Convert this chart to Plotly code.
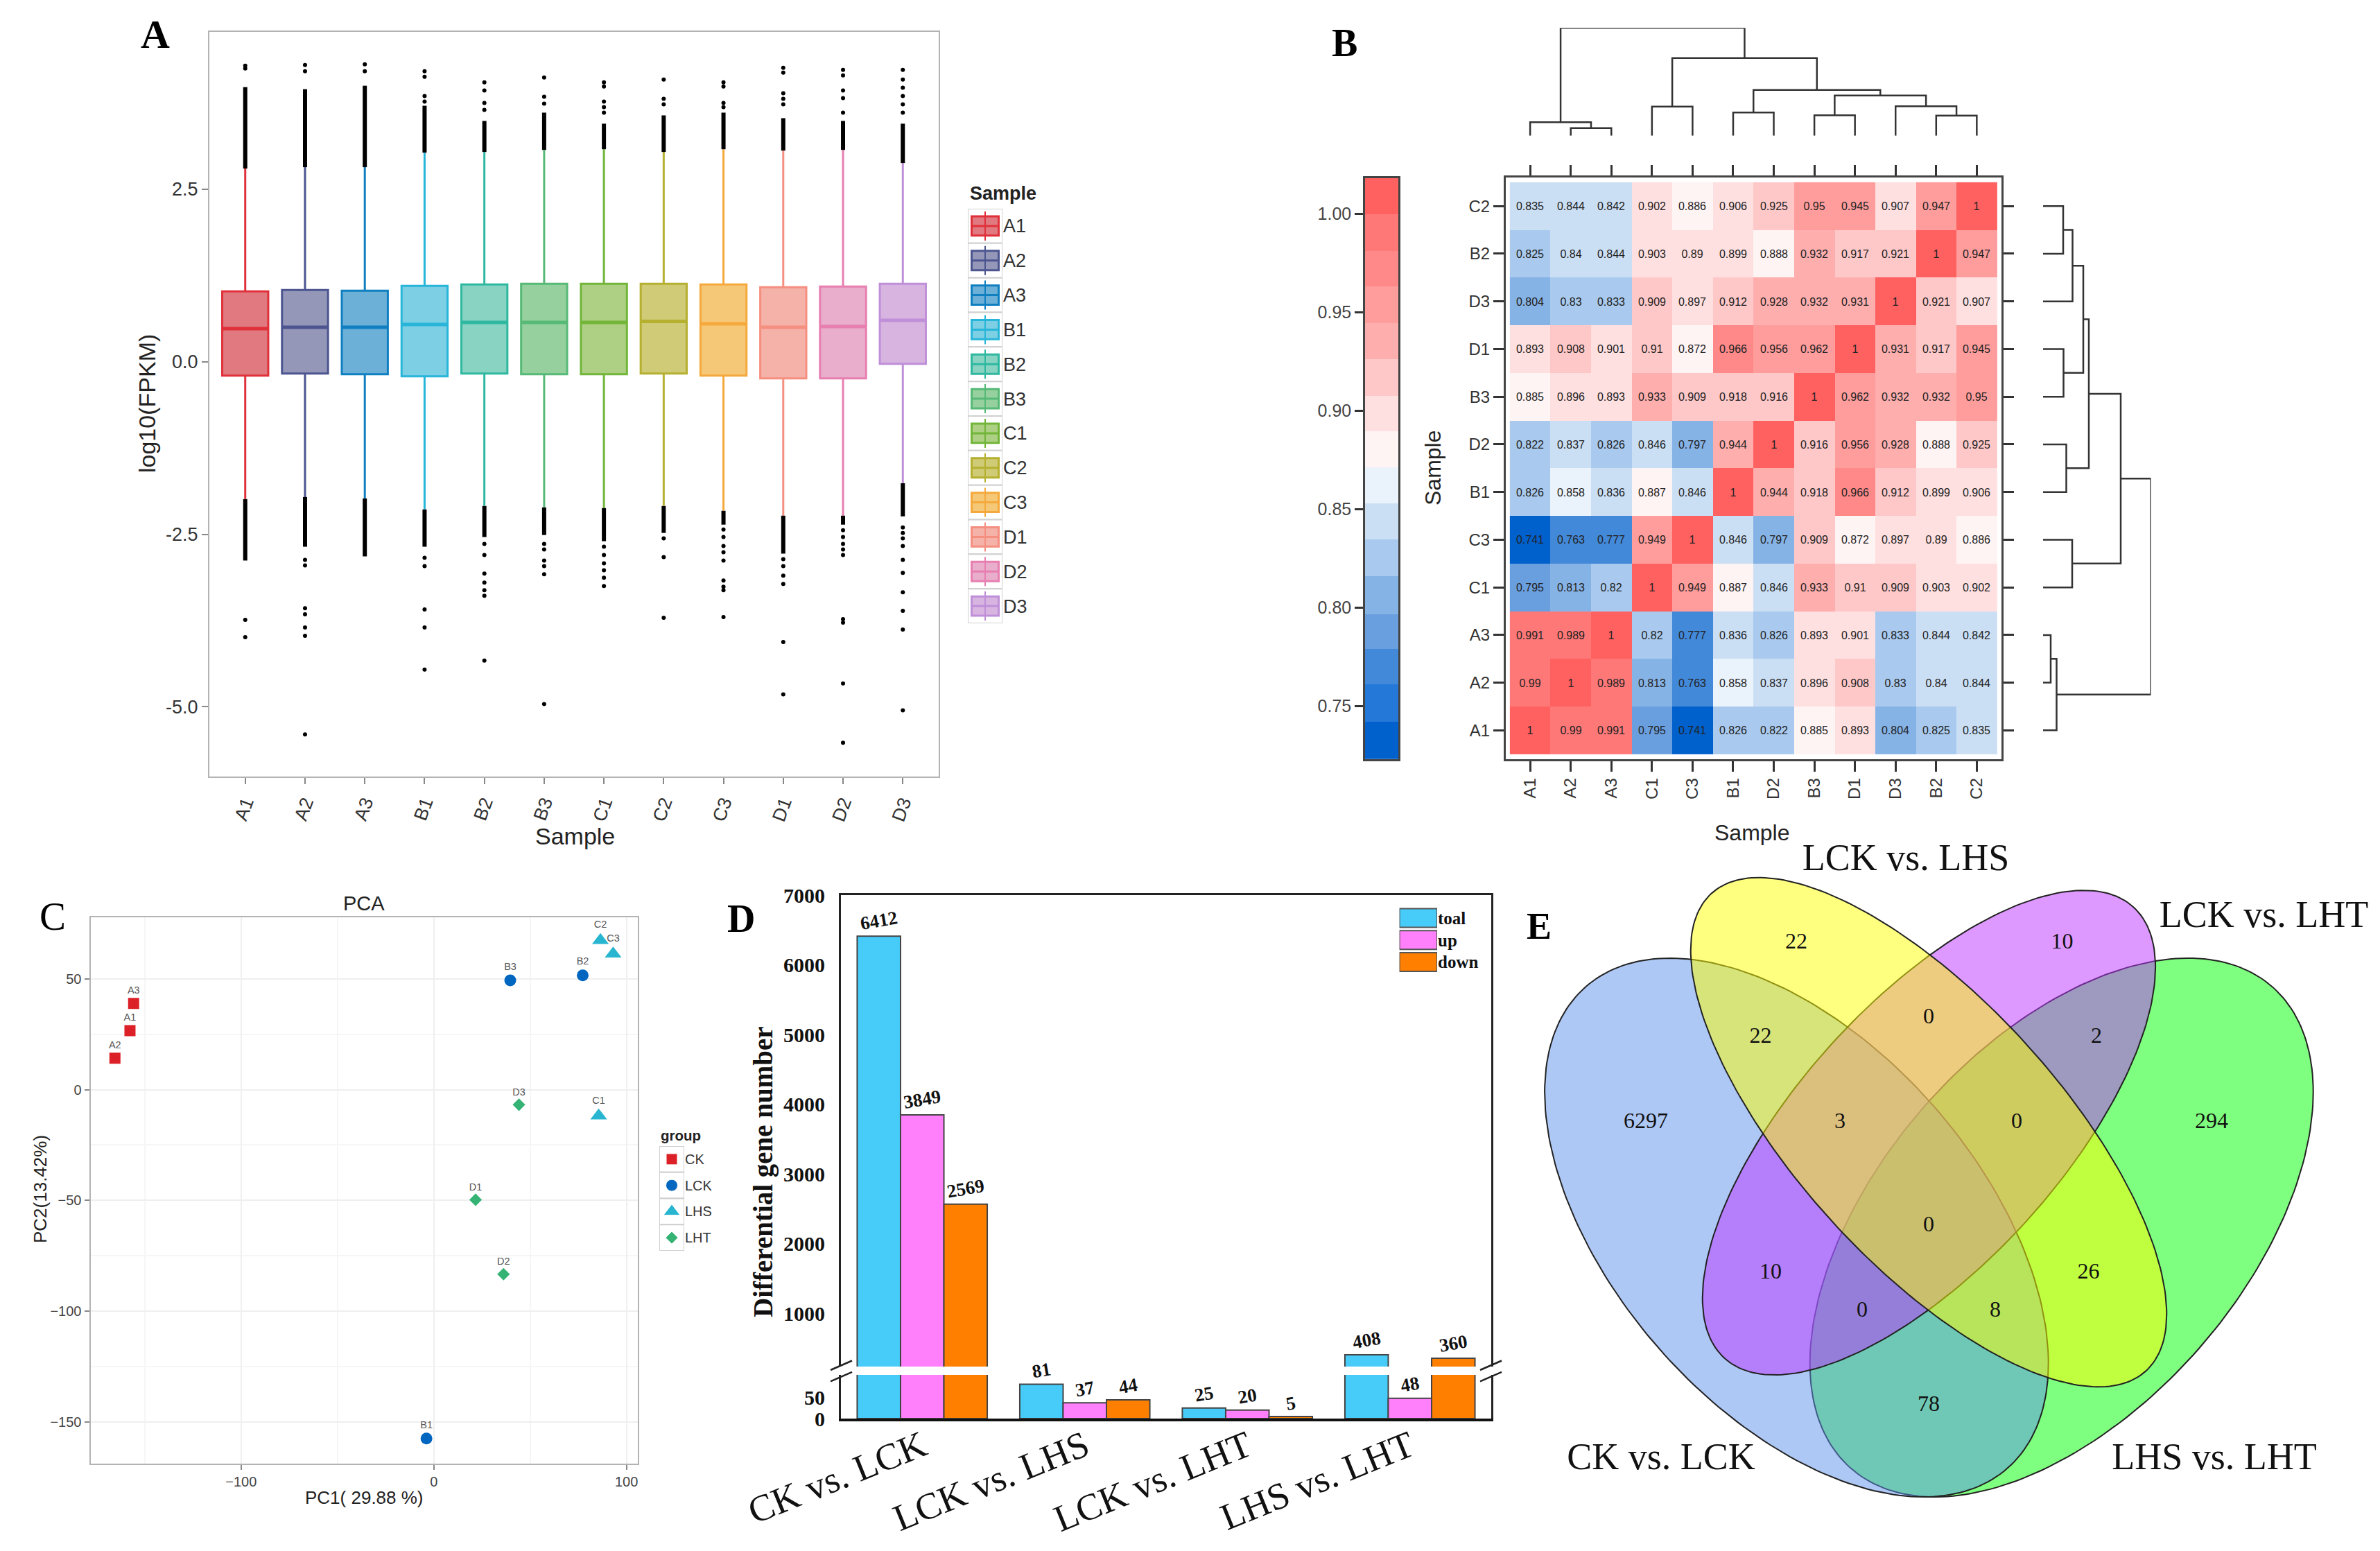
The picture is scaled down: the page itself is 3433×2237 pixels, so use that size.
import numpy as np
import plotly.graph_objects as go

W, H = 3433, 2237
SANS = "Liberation Sans"
SERIF = "Liberation Serif"

# ---------- Panel A data ----------
samples = ["A1","A2","A3","B1","B2","B3","C1","C2","C3","D1","D2","D3"]
box_q1 = [-0.20,-0.17,-0.18,-0.21,-0.17,-0.18,-0.18,-0.17,-0.20,-0.24,-0.24,-0.03]
box_median = [0.48,0.50,0.50,0.54,0.57,0.57,0.57,0.585,0.55,0.50,0.51,0.60]
box_q3 = [1.02,1.04,1.03,1.10,1.12,1.13,1.13,1.13,1.12,1.08,1.09,1.13]
box_low = [-1.99,-1.96,-1.98,-2.14,-2.09,-2.11,-2.12,-2.09,-2.16,-2.23,-2.23,-1.76]
box_high = [2.80,2.82,2.82,3.03,3.04,3.07,3.08,3.04,3.08,3.06,3.07,2.88]
dense_top_end = [3.98,3.95,4.00,3.71,3.49,3.61,3.45,3.57,3.61,3.53,3.49,3.45]
dense_bottom_end = [-2.88,-2.68,-2.82,-2.68,-2.54,-2.51,-2.60,-2.48,-2.36,-2.78,-2.36,-2.24]
sparse_outliers = [
    [4.29,4.25,-3.74,-3.99],
    [4.30,4.21,-2.87,-2.95,-3.57,-3.66,-3.85,-3.97,-5.40],
    [4.31,4.21],
    [4.21,4.13,3.85,3.77,-2.84,-2.96,-3.59,-3.85,-4.46],
    [4.05,3.93,3.75,3.65,-2.64,-2.80,-3.07,-3.20,-3.31,-3.39,-4.33],
    [4.12,3.84,3.74,-2.64,-2.72,-2.88,-2.96,-3.08,-4.96],
    [4.05,3.99,3.77,3.69,3.61,-2.68,-2.80,-2.92,-3.02,-3.13,-3.25],
    [4.09,3.81,3.73,-2.56,-2.83,-3.71],
    [4.05,3.99,3.75,3.69,-2.43,-2.54,-2.67,-2.76,-2.88,-3.17,-3.26,-3.31,-3.70],
    [4.26,4.19,3.89,3.81,3.73,-2.86,-2.96,-3.10,-3.22,-4.06,-4.82],
    [4.23,4.15,3.93,3.82,3.61,-2.44,-2.54,-2.64,-2.72,-2.80,-3.73,-3.78,-4.66,-5.52],
    [4.23,4.09,3.97,3.85,3.73,3.61,-2.40,-2.48,-2.56,-2.67,-2.87,-3.06,-3.34,-3.61,-3.88,-5.05],
]
box_line_colors = ["#e0303a","#4c5590","#0f7fc0","#27b5d9","#2eb8a0","#56ba76","#72b539","#b5b030","#f5a93c","#f58f80","#e77fb0","#bf8fd8"]
box_fill_colors = ["#e07a80","#9497b8","#6cb0d8","#7dcfe3","#88d3c2","#96d09e","#add084","#cfcb76","#f5c878","#f4b2a8","#e9aecc","#d8b5e0"]

# ---------- Panel B data ----------
heat_order = ["A1","A2","A3","C1","C3","B1","D2","B3","D1","D3","B2","C2"]
corr_A1 = [1,0.99,0.991,0.795,0.741,0.826,0.822,0.885,0.893,0.804,0.825,0.835]
corr_A2 = [0.99,1,0.989,0.813,0.763,0.858,0.837,0.896,0.908,0.83,0.84,0.844]
corr_A3 = [0.991,0.989,1,0.82,0.777,0.836,0.826,0.893,0.901,0.833,0.844,0.842]
corr_C1 = [0.795,0.813,0.82,1,0.949,0.887,0.846,0.933,0.91,0.909,0.903,0.902]
corr_C3 = [0.741,0.763,0.777,0.949,1,0.846,0.797,0.909,0.872,0.897,0.89,0.886]
corr_B1 = [0.826,0.858,0.836,0.887,0.846,1,0.944,0.918,0.966,0.912,0.899,0.906]
corr_D2 = [0.822,0.837,0.826,0.846,0.797,0.944,1,0.916,0.956,0.928,0.888,0.925]
corr_B3 = [0.885,0.896,0.893,0.933,0.909,0.918,0.916,1,0.962,0.932,0.932,0.95]
corr_D1 = [0.893,0.908,0.901,0.91,0.872,0.966,0.956,0.962,1,0.931,0.917,0.945]
corr_D3 = [0.804,0.83,0.833,0.909,0.897,0.912,0.928,0.932,0.931,1,0.921,0.907]
corr_B2 = [0.825,0.84,0.844,0.903,0.89,0.899,0.888,0.932,0.917,0.921,1,0.947]
corr_C2 = [0.835,0.844,0.842,0.902,0.886,0.906,0.925,0.95,0.945,0.907,0.947,1]
corr = [corr_A1,corr_A2,corr_A3,corr_C1,corr_C3,corr_B1,corr_D2,corr_B3,corr_D1,corr_D3,corr_B2,corr_C2]
level_edges = [0.723,0.742,0.761,0.779,0.7965,0.816,0.8345,0.853,0.871,0.8895,0.9075,0.926,0.9445,0.963,0.981,0.9996,1.018]
level_colors = ["#0060cc","#2478d8","#4289d9","#6a9fdf","#86b3e6","#a9caee","#cbdff4","#eaf2fb",
                "#fff4f4","#ffe0e0","#ffc8c8","#ffaeae","#ff9c9c","#ff8888","#ff7878","#ff6060"]
dendro_merges = [("A2","A3",11,"a23"),("A1","a23",19.5,"a"),("C1","C3",42,"c"),("B1","D2",33.5,"bd"),
                 ("B3","D1",29.5,"bd2"),("B2","C2",29,"bc"),("D3","bc",42.5,"dbc"),("bd2","dbc",58,"e"),
                 ("bd","e",66,"f"),("c","f",112,"g"),("a","g",155.5,"root")]

# ---------- Panel C data ----------
pca_groups = ["CK","LCK","LHS","LHT"]
pca_labels = [["A1","A2","A3"],["B1","B2","B3"],["C1","C2","C3"],["D1","D2","D3"]]
pc1 = [[-157.7,-165.5,-155.8],[-3.8,77.3,39.7],[85.6,86.5,93.1],[21.7,36.2,44.2]]
pc2 = [[26.6,14.2,38.9],[-157.5,51.6,49.3],[-11.8,67.4,61.3],[-49.7,-83.3,-6.8]]
pca_colors = ["#dc2027","#0066c0","#27b5d0","#35b374"]
pca_symbols = ["square","circle","triangle-up","diamond"]
pca_sizes = [16,17,21,14]

# ---------- Panel D data ----------
comparisons = ["CK vs. LCK","LCK vs. LHS","LCK vs. LHT","LHS vs. LHT"]
deg_series = ["toal","up","down"]
deg_total = [6412,81,25,408]
deg_up = [3849,37,20,48]
deg_down = [2569,44,5,360]
deg_colors = ["#47ccfa","#ff80fa","#ff8000"]

# ---------- Panel E data ----------
venn_names = ["CK vs. LCK","LCK vs. LHS","LCK vs. LHT","LHS vs. LHT"]
venn_counts = [22,10,0,22,2,6297,3,0,294,0,10,26,0,8,78]

# ---------- layout helpers (pixel geometry) ----------
def dx(a, b): return [a / W, b / W]
def dy(top, bottom): return [1 - bottom / H, 1 - top / H]
def px(x): return x / W
def py(y): return 1 - y / H

traces = []
layout = {}
annots = []
shapes = []

def note(text, x, y, size, family=SANS, color="#222222", bold=False, angle=0, anchor="center"):
    annots.append(dict(text=f"<b>{text}</b>" if bold else text, x=px(x), y=py(y), xref="paper", yref="paper",
                       showarrow=False, textangle=angle, xanchor=anchor, yanchor="middle",
                       font=dict(family=family, size=size, color=color)))

hidden = dict(visible=False, showgrid=False, zeroline=False)
FRAME = "#b3b3b3"

# ---------- Panel A ----------
for i, s in enumerate(samples):
    traces.append(go.Box(x=[s], q1=[box_q1[i]], median=[box_median[i]], q3=[box_q3[i]],
                         lowerfence=[box_low[i]], upperfence=[box_high[i]], width=0.77, whiskerwidth=0,
                         boxpoints=False, line=dict(color=box_line_colors[i], width=3),
                         fillcolor=box_fill_colors[i], xaxis="x", yaxis="y", showlegend=False))
traces.append(go.Scatter(x=samples, y=box_median, mode="markers", xaxis="x", yaxis="y", showlegend=False,
                         marker=dict(symbol="line-ew", size=47, color=box_line_colors,
                                     line=dict(color=box_line_colors, width=5))))
span_x, span_y = [], []
for i, s in enumerate(samples):
    span_x += [s, s, None, s, s, None]
    span_y += [box_high[i], dense_top_end[i], None, box_low[i], dense_bottom_end[i], None]
traces.append(go.Scatter(x=span_x, y=span_y, mode="lines", line=dict(color="black", width=6),
                         xaxis="x", yaxis="y", showlegend=False, connectgaps=False))
ox = [s for s, vals in zip(samples, sparse_outliers) for _ in vals]
oy = [v for vals in sparse_outliers for v in vals]
traces.append(go.Scatter(x=ox, y=oy, mode="markers", marker=dict(color="black", size=6),
                         xaxis="x", yaxis="y", showlegend=False))
layout["xaxis"] = dict(domain=dx(302, 1354), anchor="y", type="category", categoryorder="array", categoryarray=samples,
                       range=[-0.6, 11.6], showgrid=False, zeroline=False, showline=True, mirror=True, linecolor=FRAME, linewidth=2,
                       ticks="outside", ticklen=9, tickwidth=2, tickcolor="#888888", tickangle=-70,
                       tickfont=dict(family=SANS, size=27, color="#333333"))
layout["yaxis"] = dict(domain=dy(46, 1120), anchor="x", range=[-6.01, 4.78], tickvals=[-5, -2.5, 0, 2.5],
                       ticktext=["-5.0", "-2.5", "0.0", "2.5"], showgrid=False, zeroline=False, showline=True, mirror=True,
                       linecolor=FRAME, linewidth=2, ticks="outside", ticklen=9, tickwidth=2, tickcolor="#888888",
                       tickfont=dict(family=SANS, size=27, color="#333333"))
note("Sample", 829, 1206, 34)
note("log10(FPKM)", 212, 582, 34, angle=-90)
note("A", 224, 49, 58, SERIF, "black", True)

# A legend (keys through a small categorical axis)
traces.append(go.Bar(y=samples, x=[1]*12, orientation="h", width=1, offset=-0.5, xaxis="x2", yaxis="y2", showlegend=False,
                     marker=dict(color="white", line=dict(color="#d0d0d0", width=2))))
traces.append(go.Bar(y=samples, x=[0.78]*12, base=0.11, orientation="h", width=0.56, offset=-0.28, xaxis="x2", yaxis="y2", showlegend=False,
                     marker=dict(color=box_fill_colors, line=dict(color=box_line_colors, width=3))))
traces.append(go.Scatter(y=samples, x=[0.5]*12, mode="markers", xaxis="x2", yaxis="y2", showlegend=False,
                         marker=dict(symbol="line-ns", size=30, color=box_line_colors, line=dict(color=box_line_colors, width=2))))
traces.append(go.Scatter(y=samples, x=[0.5]*12, mode="markers", xaxis="x2", yaxis="y2", showlegend=False,
                         marker=dict(symbol="line-ew", size=27, color=box_line_colors, line=dict(color=box_line_colors, width=3))))
layout["xaxis2"] = dict(domain=dx(1396, 1446), anchor="y2", range=[0, 1], **hidden)
layout["yaxis2"] = dict(domain=dy(301, 899), anchor="x2", side="right", type="category", categoryorder="array", categoryarray=samples,
                        range=[11.5, -0.5], showgrid=False, zeroline=False, showline=False, ticks="", 
                        tickfont=dict(family=SANS, size=27, color="#333333"))
note("Sample", 1397, 279, 27, bold=True, anchor="left")

# ---------- Panel B ----------
zmin, zmax = level_edges[0], level_edges[-1]
colorscale = []
for i, c in enumerate(level_colors):
    colorscale.append([(level_edges[i] - zmin) / (zmax - zmin), c])
    colorscale.append([(level_edges[i + 1] - zmin) / (zmax - zmin), c])
traces.append(go.Heatmap(z=corr, x=heat_order, y=heat_order, zmin=zmin, zmax=zmax, colorscale=colorscale, showscale=False,
                         text=[[f"{v:g}" for v in r] for r in corr], texttemplate="%{text}",
                         textfont=dict(family=SANS, size=16, color="#222222"), xaxis="x3", yaxis="y3"))
B_AX = dict(type="category", categoryorder="array", categoryarray=heat_order, range=[-0.6, 11.6], showgrid=False, zeroline=False,
            showline=True, mirror="ticks", linecolor="#444444", linewidth=3, ticks="outside", ticklen=15, tickwidth=2.5, tickcolor="#333333",
            tickfont=dict(family=SANS, size=24, color="#333333"))
layout["xaxis3"] = dict(domain=dx(2172, 2886.5), anchor="y3", tickangle=-90, **B_AX)
layout["yaxis3"] = dict(domain=dy(256, 1094.6), anchor="x3", **B_AX)
note("Sample", 2527, 1201, 32)
note("Sample", 2067, 675, 32, angle=-90)
note("B", 1939, 62, 56, SERIF, "black", True)

mids = [(level_edges[i] + level_edges[i + 1]) / 2 for i in range(len(level_colors))]
traces.append(go.Heatmap(z=[[m] for m in mids], x=[0, 1], y=level_edges, zmin=zmin, zmax=zmax, colorscale=colorscale,
                         showscale=False, xaxis="x4", yaxis="y4"))
layout["xaxis4"] = dict(domain=dx(1969, 2017), anchor="y4", range=[0, 1], showgrid=False, zeroline=False, showticklabels=False,
                        showline=True, mirror=True, linecolor="#444444", linewidth=2.5, ticks="")
layout["yaxis4"] = dict(domain=dy(257, 1094.7), anchor="x4", range=[zmin, zmax], tickvals=[0.75, 0.80, 0.85, 0.90, 0.95, 1.00],
                        tickformat=".2f", showgrid=False, zeroline=False, showline=True, mirror=True, linecolor="#444444", linewidth=2.5,
                        ticks="outside", ticklen=12, tickwidth=2.5, tickcolor="#333333",
                        tickfont=dict(family=SANS, size=25, color="#444444"))

node_pos = {s: float(i) for i, s in enumerate(heat_order)}
node_h = {s: 0.0 for s in heat_order}
seg_pos, seg_h = [], []
for a, b, h, name in dendro_merges:
    seg_pos += [node_pos[a], node_pos[a], node_pos[b], node_pos[b], None]
    seg_h += [node_h[a], h, h, node_h[b], None]
    node_pos[name] = (node_pos[a] + node_pos[b]) / 2
    node_h[name] = h
DEND = dict(color="#333333", width=2.5)
traces.append(go.Scatter(x=seg_pos, y=seg_h, mode="lines", line=DEND, xaxis="x5", yaxis="y5", showlegend=False))
traces.append(go.Scatter(x=seg_h, y=seg_pos, mode="lines", line=DEND, xaxis="x6", yaxis="y6", showlegend=False))
layout["xaxis5"] = dict(domain=dx(2172, 2886.5), anchor="y5", range=[-0.6, 11.6], **hidden)
layout["yaxis5"] = dict(domain=dy(40.2, 195.7), anchor="x5", range=[0, 155.5], **hidden)
layout["xaxis6"] = dict(domain=dx(2947, 3102.5), anchor="y6", range=[0, 155.5], **hidden)
layout["yaxis6"] = dict(domain=dy(256, 1094.6), anchor="x6", range=[-0.6, 11.6], **hidden)

# ---------- Panel C ----------
for g in range(4):
    traces.append(go.Scatter(x=pc1[g], y=pc2[g], text=pca_labels[g], mode="markers+text", textposition="top center",
                             textfont=dict(family=SANS, size=14.5, color="#555555"),
                             marker=dict(symbol=pca_symbols[g], size=pca_sizes[g], color=pca_colors[g]),
                             xaxis="x7", yaxis="y7", showlegend=False, name=pca_groups[g]))
C_AX = dict(showline=True, mirror=True, linecolor=FRAME, linewidth=2, zeroline=False, showgrid=True, gridcolor="#efefef", gridwidth=1.5,
            ticks="outside", ticklen=7, tickwidth=2, tickcolor="#888888", tickfont=dict(family=SANS, size=20, color="#444444"))
layout["xaxis7"] = dict(domain=dx(130.5, 920), anchor="y7", range=[-178.2, 105.9], tickvals=[-100, 0, 100],
                        minor=dict(tickvals=[-150, -50, 50], showgrid=True, gridcolor="#f6f6f6", ticks=""), **C_AX)
layout["yaxis7"] = dict(domain=dy(1323, 2110.6), anchor="x7", range=[-168.7, 77.8], tickvals=[-150, -100, -50, 0, 50],
                        minor=dict(tickvals=[-125, -75, -25, 25], showgrid=True, gridcolor="#f6f6f6", ticks=""), **C_AX)
note("PCA", 525, 1303, 29)
note("PC1( 29.88 %)", 525, 2160, 26)
note("PC2(13.42%)", 58, 1715, 26, angle=-90)
note("C", 76, 1321, 57, SERIF, "black")

traces.append(go.Bar(y=pca_groups, x=[1]*4, orientation="h", width=1, offset=-0.5, xaxis="x8", yaxis="y8", showlegend=False,
                     marker=dict(color="white", line=dict(color="#d0d0d0", width=2))))
traces.append(go.Scatter(y=pca_groups, x=[0.5]*4, mode="markers", xaxis="x8", yaxis="y8", showlegend=False,
                         marker=dict(symbol=pca_symbols, size=pca_sizes, color=pca_colors, opacity=1)))
layout["xaxis8"] = dict(domain=dx(951, 987), anchor="y8", range=[0, 1], **hidden)
layout["yaxis8"] = dict(domain=dy(1653, 1804), anchor="x8", side="right", type="category", categoryorder="array", categoryarray=pca_groups,
                        range=[3.5, -0.5], showgrid=False, zeroline=False, showline=False, ticks="",
                        tickfont=dict(family=SANS, size=20, color="#333333"))
note("group", 951, 1638, 20.5, bold=True, anchor="left")

# ---------- Panel D ----------
deg_values = [deg_total, deg_up, deg_down]
BREAK = 240
D_TEXT = dict(family=SERIF, size=27, color="#111111", weight="bold")
for k, vals in enumerate(deg_values):
    for xa, ya in (("x9", "y9"), ("x10", "y10")):
        traces.append(go.Bar(x=comparisons, y=vals,
                             marker=dict(color=deg_colors[k], line=dict(color="#444444", width=2)),
                             xaxis=xa, yaxis=ya, showlegend=False, name=deg_series[k], offsetgroup=str(k)))
    # labels ride on invisible bars that are free to leave the clipped axis band
    traces.append(go.Bar(x=comparisons, y=[v if v >= BREAK else None for v in vals], text=[str(v) if v >= BREAK else "" for v in vals],
                         textposition="outside", textangle=-10, constraintext="none", cliponaxis=False, textfont=D_TEXT,
                         marker=dict(color="rgba(0,0,0,0)", line=dict(width=0)), xaxis="x9", yaxis="y9", showlegend=False, offsetgroup=str(k)))
    traces.append(go.Bar(x=comparisons, y=[v if v < BREAK else None for v in vals], text=[str(v) if v < BREAK else "" for v in vals],
                         textposition="outside", textangle=-10, constraintext="none", cliponaxis=False, textfont=D_TEXT,
                         marker=dict(color="rgba(0,0,0,0)", line=dict(width=0)), xaxis="x10", yaxis="y10", showlegend=False, offsetgroup=str(k)))
D_TICK = dict(family=SERIF, size=30, color="#111111", weight="bold")
layout["xaxis9"] = dict(domain=dx(1213, 2151), anchor="y9", side="top", type="category", categoryorder="array", categoryarray=comparisons,
                        range=[-0.5, 3.5], showticklabels=False, ticks="", showgrid=False, zeroline=False, showline=True, linecolor="#222222", linewidth=3)
layout["yaxis9"] = dict(domain=dy(1291, 1971), anchor="x9", range=[BREAK, 7000], tickvals=[1000, 2000, 3000, 4000, 5000, 6000, 7000],
                        showgrid=False, zeroline=False, showline=True, mirror=True, linecolor="#222222", linewidth=3,
                        ticks="outside", ticklen=14, tickcolor="rgba(0,0,0,0)", tickfont=D_TICK)
layout["xaxis10"] = dict(domain=dx(1213, 2151), anchor="y10", type="category", categoryorder="array", categoryarray=comparisons,
                         range=[-0.5, 3.5], ticks="", tickangle=-22, ticklabelstandoff=-16, showgrid=False, zeroline=False, showline=True, linecolor="#111111", linewidth=4,
                         tickfont=dict(family=SERIF, size=54, color="#111111"))
layout["yaxis10"] = dict(domain=dy(1983, 2046), anchor="x10", range=[0, 103], tickvals=[0, 50],
                         showgrid=False, zeroline=False, showline=True, mirror=True, linecolor="#222222", linewidth=3,
                         ticks="outside", ticklen=14, tickcolor="rgba(0,0,0,0)", tickfont=D_TICK)
note("Differential gene number", 1101, 1690, 39, SERIF, "#111111", True, angle=-90)
note("D", 1069, 1325, 56, SERIF, "black", True)
for x0 in (1198, 2135):
    for y0 in (1976, 1992.4):
        shapes.append(dict(type="line", xref="paper", yref="paper", x0=px(x0), x1=px(x0 + 31), y0=py(y0), y1=py(y0 - 13.5),
                           line=dict(color="#222222", width=2.5)))

traces.append(go.Bar(y=deg_series, x=[1]*3, orientation="h", width=0.85, offset=-0.425, xaxis="x11", yaxis="y11", showlegend=False,
                     marker=dict(color=deg_colors, line=dict(color="#555555", width=2))))
layout["xaxis11"] = dict(domain=dx(2018.6, 2073), anchor="y11", range=[0, 1], **hidden)
layout["yaxis11"] = dict(domain=dy(1308, 1403.5), anchor="x11", side="right", type="category", categoryorder="array", categoryarray=deg_series,
                         range=[2.5, -0.5], showgrid=False, zeroline=False, showline=False, ticks="",
                         tickfont=dict(family=SERIF, size=25, color="#111111", weight="bold"))

# ---------- Panel E ----------
def ellipse(cx, cy, w, h, c):
    t = np.linspace(0, 2 * np.pi, 241)
    L = np.linalg.cholesky(np.array([[w * w, c], [c, h * h]]))
    pts = L @ np.vstack([np.cos(t), np.sin(t)])
    return cx + pts[0], cy + pts[1]

venn_shapes = [
    ("LHS vs. LHT", 2973.7, 1770.5, 363.0, 388.5, -71000, "rgba(0,255,0,0.5)"),
    ("CK vs. LCK", 2591.4, 1770.5, 363.3, 388.5, 71000, "rgba(93,145,235,0.5)"),
    ("LCK vs. LHT", 2782.4, 1633.6, 326.7, 349.5, -78000, "rgba(187,51,255,0.5)"),
    ("LCK vs. LHS", 2782.0, 1633.0, 343.3, 367.3, 90000, "rgba(255,255,0,0.5)"),
]
for nm, cx, cy, w, h, c, col in venn_shapes:
    ex, ey = ellipse(cx, cy, w, h, c)
    traces.append(go.Scatter(x=ex, y=ey, mode="lines", fill="toself", fillcolor=col, line=dict(color="#222222", width=2),
                             xaxis="x12", yaxis="y12", showlegend=False, name=nm))
venn_x = [2591,2974.5,2782,2539.5,3024,2374,2654,2909,3190,2782,2554,3012.5,2686,2878,2782]
venn_y = [1360,1360,1468,1496,1496,1618.5,1618.5,1618.5,1618.5,1768,1836,1836,1891,1891,2026.5]
traces.append(go.Scatter(x=venn_x, y=venn_y, text=[str(v) for v in venn_counts], mode="text", xaxis="x12", yaxis="y12", showlegend=False,
                         textfont=dict(family=SERIF, size=32, color="#111111")))
label_x = [2396, 2749, 3265.5, 3194]
label_y = [2105, 1241, 1323, 2105]
traces.append(go.Scatter(x=label_x, y=label_y, text=venn_names, mode="text", xaxis="x12", yaxis="y12", showlegend=False,
                         textfont=dict(family=SERIF, size=54, color="#111111")))
layout["xaxis12"] = dict(domain=dx(2190, 3433), anchor="y12", range=[2190, 3433], **hidden)
layout["yaxis12"] = dict(domain=dy(1200, 2237), anchor="x12", range=[2237, 1200], **hidden)
note("E", 2220, 1336, 54, SERIF, "black", True)

for ax in layout.values():
    ax["automargin"] = False

fig = go.Figure(data=traces)
fig.update_layout(width=W, height=H, margin=dict(l=0, r=0, t=0, b=0, autoexpand=False), paper_bgcolor="white", plot_bgcolor="white",
                  showlegend=False, barmode="group", bargap=0.2, bargroupgap=0, boxmode="overlay",
                  annotations=annots, shapes=shapes, **layout)
fig.write_html("out.html", config={"displayModeBar": False},
               post_script="document.body.style.margin='0';document.body.style.overflow='hidden';")
